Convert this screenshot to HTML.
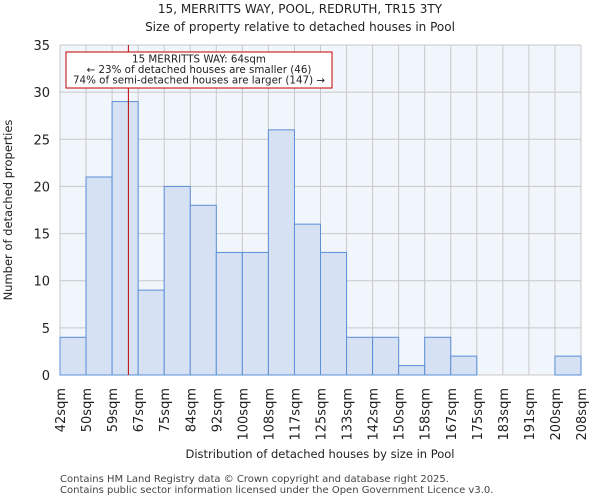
<!DOCTYPE html>
<html><head><meta charset="utf-8"><style>
body{margin:0;background:#fff;font-family:"DejaVu Sans","Liberation Sans",sans-serif}
</style></head><body>
<svg id="c" width="600" height="500" xmlns="http://www.w3.org/2000/svg" font-family="DejaVu Sans, Liberation Sans, sans-serif">
<text x="300" y="13" text-anchor="middle" font-size="12" fill="#222">15, MERRITTS WAY, POOL, REDRUTH, TR15 3TY</text>
<text x="300" y="31" text-anchor="middle" font-size="12" fill="#222">Size of property relative to detached houses in Pool</text>
<rect x="60" y="45" width="521" height="330" fill="#f1f5fc"/>
<g id="grid"></g><g id="bars"></g><g id="ticks"></g>
<text x="320" y="458" text-anchor="middle" font-size="11.5" fill="#222">Distribution of detached houses by size in Pool</text>
<text transform="translate(12,210) rotate(-90)" text-anchor="middle" font-size="11.5" fill="#222">Number of detached properties</text>
<text x="60" y="482" font-size="10" fill="#444">Contains HM Land Registry data © Crown copyright and database right 2025.</text>
<text x="60" y="493" font-size="10" fill="#444">Contains public sector information licensed under the Open Government Licence v3.0.</text>
</svg>
<script>
const categories=["42sqm","50sqm","59sqm","67sqm","75sqm","84sqm","92sqm","100sqm","108sqm","117sqm","125sqm","133sqm","142sqm","150sqm","158sqm","167sqm","175sqm","183sqm","191sqm","200sqm","208sqm"];
const counts=[4,21,29,9,20,18,13,13,26,16,13,4,4,1,4,2,0,0,0,2];
const yTicks=[0,5,10,15,20,25,30,35];
const markerBin=2.625;
const NS="http://www.w3.org/2000/svg";
const L=60,R=581,T=45,B=375,yMax=35;
const bw=(R-L)/counts.length;
const xs=i=>L+i*bw, ys=v=>B-(v/yMax)*(B-T);
function mk(t,a,p){const e=document.createElementNS(NS,t);for(const k in a)e.setAttribute(k,a[k]);p.appendChild(e);return e;}
const grid=document.getElementById('grid'),bars=document.getElementById('bars'),ticks=document.getElementById('ticks');
yTicks.forEach(v=>{
 const g=mk('line',{x1:L,x2:R,y1:ys(v),y2:ys(v),stroke:'#c8c8c8','stroke-width':1},grid);
 
 
 const t=mk('text',{x:L-10,y:ys(v)+5,'text-anchor':'end','font-size':13,fill:'#222'},ticks);
 t.textContent=v;
 
 
});
categories.forEach((c,i)=>{
 const x=xs(i);
 const g=mk('line',{x1:x,x2:x,y1:T,y2:B,stroke:'#c8c8c8','stroke-width':1},grid);
 
 
 const t=mk('text',{transform:`translate(${x+5},388) rotate(-90)`,'text-anchor':'end','font-size':13,fill:'#222'},ticks);
 t.textContent=c;
 
 
});
counts.forEach((v,i)=>{
 if(v<=0)return;
 const r=mk('rect',{x:xs(i),y:ys(v),width:bw,height:B-ys(v),fill:'#d6e1f4',stroke:'#5b8fd6','stroke-width':1},bars);
 
 
});
const mx=xs(markerBin);
const ml=mk('line',{x1:mx,x2:mx,y1:T,y2:B,stroke:'#c00000','stroke-width':1},bars);


const box=mk('rect',{x:66,y:52,width:266,height:36,fill:'#fff',stroke:'#c00000','stroke-width':1},bars);


["15 MERRITTS WAY: 64sqm","← 23% of detached houses are smaller (46)","74% of semi-detached houses are larger (147) →"].forEach((s,k)=>{
 const t=mk('text',{x:199,y:62.5+k*10.5,'text-anchor':'middle','font-size':10.3,fill:'#222'},bars);
 t.textContent=s;
 
 
});
</script>
</body></html>
